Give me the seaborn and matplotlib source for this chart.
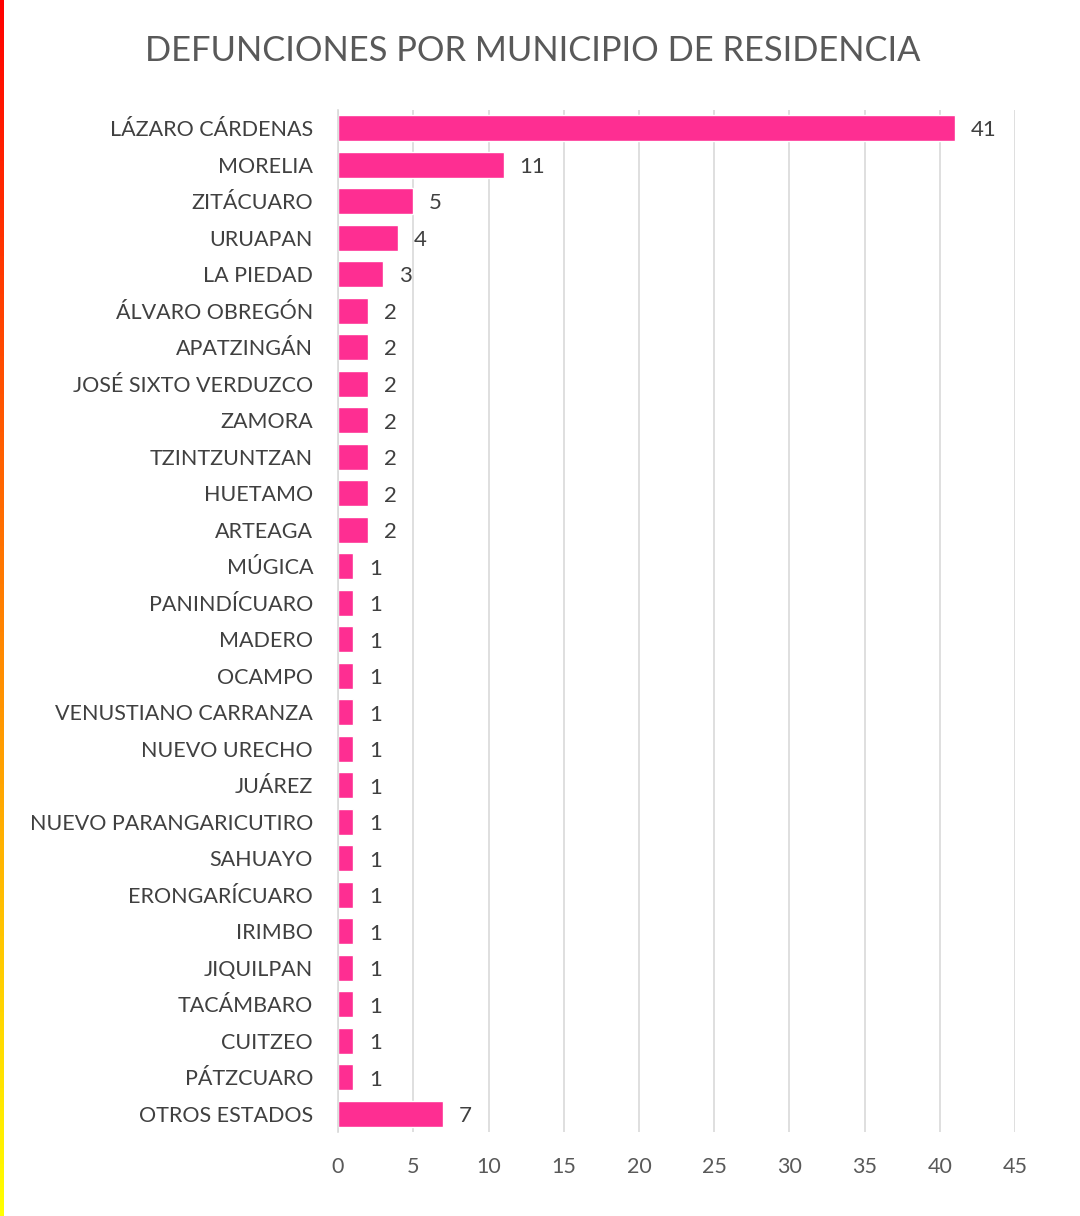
import pandas as pd
import numpy as np
import matplotlib.pyplot as plt
import seaborn as sns

municipios = [
    "LÁZARO CÁRDENAS", "MORELIA", "ZITÁCUARO", "URUAPAN", "LA PIEDAD",
    "ÁLVARO OBREGÓN", "APATZINGÁN", "JOSÉ SIXTO VERDUZCO", "ZAMORA",
    "TZINTZUNTZAN", "HUETAMO", "ARTEAGA", "MÚGICA", "PANINDÍCUARO",
    "MADERO", "OCAMPO", "VENUSTIANO CARRANZA", "NUEVO URECHO", "JUÁREZ",
    "NUEVO PARANGARICUTIRO", "SAHUAYO", "ERONGARÍCUARO", "IRIMBO",
    "JIQUILPAN", "TACÁMBARO", "CUITZEO", "PÁTZCUARO", "OTROS ESTADOS",
]
defunciones = [41, 11, 5, 4, 3, 2, 2, 2, 2, 2, 2, 2, 1, 1, 1, 1, 1, 1, 1,
               1, 1, 1, 1, 1, 1, 1, 1, 7]
xticks = [0, 5, 10, 15, 20, 25, 30, 35, 40, 45]

df = pd.DataFrame({"municipio": municipios, "defunciones": defunciones})

sns.set_theme(style="white")
plt.rcParams['font.family'] = ['Lato', 'DejaVu Sans']

fig = plt.figure(figsize=(10.8, 12.16), dpi=100)
ax = fig.add_axes([0.313, 0.069, 0.627, 0.8405])

pink = "#FE2E92"
sns.barplot(data=df, y="municipio", x="defunciones", color=pink,
            width=0.71, saturation=1, ax=ax, orient="h")

for i, v in enumerate(defunciones):
    ax.text(v + 1.05, i + 0.06, str(v), va="center", ha="left",
            fontsize=16, color="#404040")

ax.set_xlim(0, 45)
ax.set_xticks(xticks)
ax.xaxis.grid(True, color="#D9D9D9", linewidth=1.2)
ax.set_axisbelow(True)
for s in ["top", "right", "bottom"]:
    ax.spines[s].set_visible(False)
ax.spines["left"].set_color("#D9D9D9")
ax.spines["left"].set_linewidth(1.2)
ax.tick_params(axis="both", length=0)
ax.tick_params(axis="y", labelsize=15.5, labelcolor="#404040", pad=18)
ax.tick_params(axis="x", labelsize=15.5, labelcolor="#595959", pad=18)
ax.set_xlabel("")
ax.set_ylabel("")

fig.text(0.493, 0.958, "DEFUNCIONES POR MUNICIPIO DE RESIDENCIA",
         ha="center", va="center", fontsize=24.8, color="#595959")

# thin coloured strip on the left edge
strip = fig.add_axes([0, 0, 0.003, 1])
grad = np.linspace(0, 1, 256).reshape(-1, 1)
strip.imshow(grad, aspect="auto", cmap="autumn")
strip.axis("off")

fig.savefig("out.png", dpi=100)
plt.close(fig)
